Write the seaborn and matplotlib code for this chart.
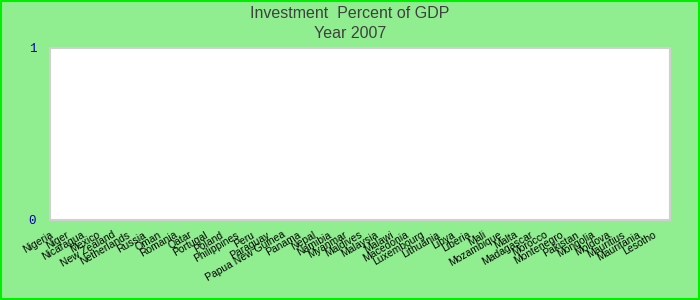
import numpy as np
import pandas as pd
import matplotlib
matplotlib.use("Agg")
import matplotlib.pyplot as plt
import seaborn as sns

countries = ["Nigeria", "Niger", "Nicaragua", "Mexico", "New Zealand", "Netherlands",
             "Russia", "Oman", "Romania", "Qatar", "Portugal", "Poland", "Philippines",
             "Peru", "Paraguay", "Papua New Guinea", "Panama", "Nepal", "Namibia",
             "Myanmar", "Maldives", "Malaysia", "Malawi", "Macedonia", "Luxembourg",
             "Lithuania", "Libya", "Liberia", "Mali", "Mozambique", "Malta", "Madagascar",
             "Morocco", "Montenegro", "Pakistan", "Mongolia", "Moldova", "Mauritius",
             "Mauritania", "Lesotho"]
# No values are shown for 2007 in the reference chart
values = [np.nan] * len(countries)
yticks = [0, 1]
title_line1 = "Investment  Percent of GDP"
title_line2 = "Year 2007"

df = pd.DataFrame({"country": countries, "value": values})

sns.set_theme(style="white")
plt.rcParams['font.family'] = ['Liberation Sans', 'DejaVu Sans']

fig = plt.figure(figsize=(7, 3), dpi=100, facecolor="#90EE90")
ax = fig.add_axes([50/700, 1 - 220/300, 620/700, 172/300])
ax.set_facecolor("white")

sns.barplot(data=df, x="country", y="value", ax=ax, color="#4472c4", errorbar=None)

ax.set_xlim(-0.5, len(countries) - 0.5)
ax.set_ylim(0, 1)
ax.set_yticks(yticks)
ax.set_yticklabels([str(t) for t in yticks], color="#0000aa", fontsize=9,
                   family=['Liberation Mono', 'DejaVu Sans Mono'])
# labels are anchored slightly left of each category centre (tick marks hidden)
ax.set_xticks(np.arange(len(countries)) - 0.6)
ax.set_xticklabels(countries, rotation=30, ha="right", rotation_mode="anchor",
                   fontsize=7.5, color="black")
ax.tick_params(axis="x", length=0, pad=7)
ax.tick_params(axis="y", length=0, pad=10)
ax.set_xlabel("")
ax.set_ylabel("")
for s in ax.spines.values():
    s.set_color("#d0d0d0")
    s.set_linewidth(1.5)

fam = ['Liberation Sans Narrow', 'Liberation Sans', 'DejaVu Sans']
fig.text(0.5, 0.955, title_line1, ha="center", va="center",
         fontsize=11.5, color="#404040", family=fam)
fig.text(0.5, 0.89, title_line2, ha="center", va="center",
         fontsize=11.5, color="#404040", family=fam)

border = plt.Rectangle((0.0015, 0.003), 0.997, 0.994, transform=fig.transFigure,
                       fill=False, edgecolor="#00ee00", linewidth=1.5)
fig.patches.append(border)

fig.savefig("out.png", dpi=100, facecolor=fig.get_facecolor())
